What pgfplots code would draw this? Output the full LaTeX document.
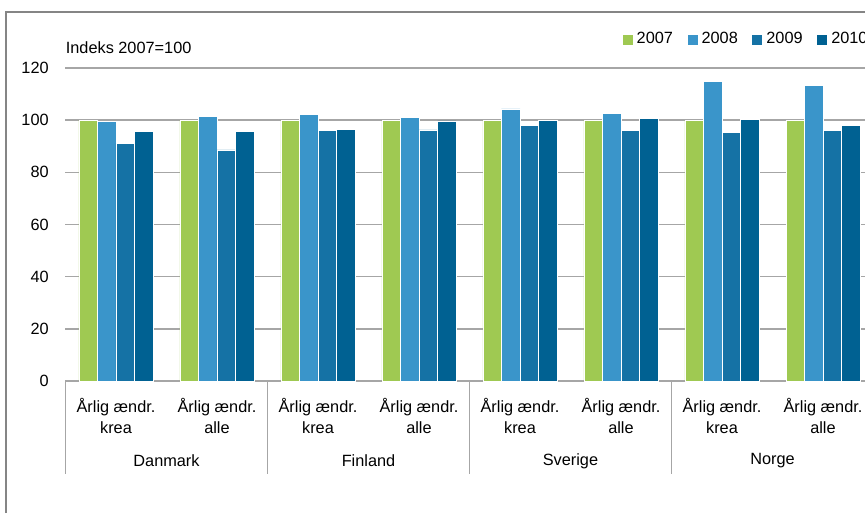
\documentclass[border=0pt]{standalone}
\usepackage{pgfplots}
\pgfplotsset{compat=1.18}
\usepackage{fontspec}
\setmainfont{Liberation Sans}
\definecolor{cA}{HTML}{9FC952}
\definecolor{cB}{HTML}{3A95CA}
\definecolor{cC}{HTML}{1572A5}
\definecolor{cD}{HTML}{006192}
\definecolor{gridc}{HTML}{A6A6A6}
\definecolor{framec}{HTML}{858585}
\begin{document}
\fontsize{8.15pt}{10.5pt}\selectfont
\begin{tikzpicture}
\useasboundingbox (0,0) rectangle (432.5pt,256.5pt);
\clip (0,0) rectangle (432.5pt,256.5pt);
\fill[white] (0,0) rectangle (432.5pt,256.5pt);
\draw[framec, line width=0.7pt] (3pt,0) -- (3pt,250.5pt) -- (440pt,250.5pt);
\begin{axis}[
  at={(32.75pt,66pt)}, anchor=south west,
  width=404pt, height=156.5pt, scale only axis,
  xmin=-0.5, xmax=7.5, ymin=0, ymax=120,
  ybar=0pt, bar width=9.25pt,
  xtick={0,...,7},
  xticklabels={{Årlig ændr.\\krea},{Årlig ændr.\\alle},{Årlig ændr.\\krea},{Årlig ændr.\\alle},{Årlig ændr.\\krea},{Årlig ændr.\\alle},{Årlig ændr.\\krea},{Årlig ændr.\\alle}},
  xticklabel style={align=center, yshift=-1.5pt, font=\fontsize{8.15pt}{10.5pt}\selectfont},
  ytick={0,20,...,120},
  yticklabel style={xshift=-5.5pt, font=\fontsize{8.15pt}{10.5pt}\selectfont},
  /pgf/number format/assume math mode=true,
  tick style={draw=none},
  axis line style={draw=none},
  ymajorgrids, grid style={gridc, line width=0.75pt},
  clip=false,
  legend columns=4,
  legend style={at={(0.6896,1.091)}, anchor=west, draw=none, fill=none, inner sep=0pt, outer sep=0pt,
    font=\fontsize{8.15pt}{10.5pt}\selectfont,
    /tikz/every even column/.append style={column sep=5.3pt}},
  legend image code/.code={\path[#1, draw=none] (0pt,-2.5pt) rectangle (5pt,2.5pt);},
  every axis plot/.append style={draw=white, line width=0.3pt},
]
\addplot[fill=cA] coordinates {(0,100) (1,100) (2,100) (3,100) (4,100) (5,100) (6,100) (7,100)};
\addplot[fill=cB] coordinates {(0,99.4) (1,101.3) (2,102.3) (3,101.2) (4,104.3) (5,102.5) (6,114.8) (7,113.4)};
\addplot[fill=cC] coordinates {(0,91.1) (1,88.6) (2,96.1) (3,96.3) (4,97.9) (5,96.0) (6,95.3) (7,96.0)};
\addplot[fill=cD] coordinates {(0,95.6) (1,95.6) (2,96.5) (3,99.7) (4,99.8) (5,100.7) (6,100.2) (7,98.0)};
\legend{2007,2008,2009,2010}
\pgfplotsinvokeforeach{-0.5,1.5,3.5,5.5,7.5}{
  \draw[gridc, line width=0.75pt] (axis cs:#1,0) -- ([yshift=-46.5pt]axis cs:#1,0);
}
\node at ([yshift=-40pt]axis cs:0.5,0) {Danmark};
\node at ([yshift=-40pt]axis cs:2.5,0) {Finland};
\node at ([yshift=-40pt]axis cs:4.5,0) {Sverige};
\node at ([yshift=-40pt]axis cs:6.5,0) {Norge};
\node[anchor=west, inner sep=0pt] at ([yshift=10pt]axis cs:-0.5,120) {Indeks 2007=100};
\end{axis}
\end{tikzpicture}
\end{document}
